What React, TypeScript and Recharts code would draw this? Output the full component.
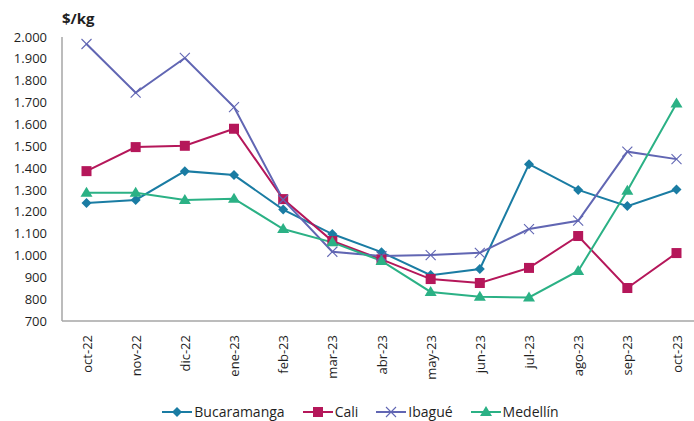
import { LineChart, Line, XAxis, YAxis, Legend } from 'recharts'

const months = ['oct-22', 'nov-22', 'dic-22', 'ene-23', 'feb-23', 'mar-23', 'abr-23', 'may-23', 'jun-23', 'jul-23', 'ago-23', 'sep-23', 'oct-23']
const bucaramanga = [1240, 1254, 1386, 1368, 1210, 1098, 1015, 910, 938, 1418, 1300, 1226, 1302]
const cali = [1386, 1496, 1502, 1580, 1258, 1066, 982, 892, 874, 943, 1089, 851, 1011]
const ibague = [1968, 1745, 1904, 1679, 1255, 1017, 997, 1002, 1012, 1121, 1159, 1475, 1441]
const medellin = [1287, 1287, 1254, 1260, 1121, 1060, 975, 833, 811, 808, 929, 1296, 1696]
const yTicks = [700, 800, 900, 1000, 1100, 1200, 1300, 1400, 1500, 1600, 1700, 1800, 1900, 2000]

const FONT = '"Open Sans", "Noto Sans", sans-serif'
const TEXT = '#1f1f1f'
const AXIS = '#a6a6a6'

type Shape = 'diamond' | 'square' | 'x' | 'triangle'

const series: { key: string; name: string; color: string; shape: Shape }[] = [
  { key: 'bucaramanga', name: 'Bucaramanga', color: '#1a7ca3', shape: 'diamond' },
  { key: 'cali', name: 'Cali', color: '#b5175a', shape: 'square' },
  { key: 'ibague', name: 'Ibagué', color: '#6166b3', shape: 'x' },
  { key: 'medellin', name: 'Medellín', color: '#2bb185', shape: 'triangle' },
]

const data = months.map((m, i) => ({
  month: m,
  bucaramanga: bucaramanga[i],
  cali: cali[i],
  ibague: ibague[i],
  medellin: medellin[i],
}))

function Marker({ cx, cy, shape, color }: { cx: number; cy: number; shape: Shape; color: string }) {
  if (shape === 'diamond') {
    return <polygon points={`${cx},${cy - 5} ${cx + 5},${cy} ${cx},${cy + 5} ${cx - 5},${cy}`} fill={color} />
  }
  if (shape === 'square') {
    return <rect x={cx - 5} y={cy - 5} width={10} height={10} fill={color} />
  }
  if (shape === 'x') {
    return (
      <g stroke={color} strokeWidth={1.1}>
        <line x1={cx - 5} y1={cy - 5} x2={cx + 5} y2={cy + 5} />
        <line x1={cx - 5} y1={cy + 5} x2={cx + 5} y2={cy - 5} />
      </g>
    )
  }
  return <polygon points={`${cx},${cy - 6} ${cx + 6},${cy + 4} ${cx - 6},${cy + 4}`} fill={color} />
}

function MonthTick({ x, y, payload }: any) {
  return (
    <text
      x={x}
      y={y + 6}
      transform={`rotate(-90, ${x}, ${y + 6})`}
      textAnchor="end"
      dominantBaseline="central"
      fontSize={13}
      fontFamily={FONT}
      fill={TEXT}
    >
      {payload.value}
    </text>
  )
}

function LegendContent() {
  return (
    <div
      style={{
        display: 'flex',
        justifyContent: 'center',
        alignItems: 'flex-end',
        gap: 18,
        fontFamily: FONT,
        fontSize: 14,
        color: TEXT,
        paddingLeft: 20,
        height: 40,
        boxSizing: 'border-box',
      }}
    >
      {series.map((s) => (
        <div key={s.key} style={{ display: 'flex', alignItems: 'center', lineHeight: '19px' }}>
          <svg width={30} height={14} style={{ marginRight: 2 }}>
            <line x1={0} y1={7} x2={30} y2={7} stroke={s.color} strokeWidth={2} />
            <Marker cx={15} cy={7} shape={s.shape} color={s.color} />
          </svg>
          <span>{s.name}</span>
        </div>
      ))}
    </div>
  )
}

const fmt = (v: number) => v.toLocaleString('de-DE')

export default function App() {
  return (
    <div style={{ position: 'absolute', left: 0, top: 0, width: 694, height: 421, overflow: 'hidden', background: '#fff' }}>
      <div style={{ position: 'absolute', left: 62, top: 8, fontFamily: FONT, fontWeight: 700, fontSize: 15, color: TEXT }}>$/kg</div>
      <LineChart width={701} height={421} data={data} margin={{ top: 37, right: 0, left: 0, bottom: 0 }}>
        <XAxis
          dataKey="month"
          axisLine={{ stroke: AXIS, strokeWidth: 1.5 }}
          tickLine={false}
          tick={<MonthTick />}
          interval={0}
          height={60}
          padding={{ left: 24.5, right: 24.5 }}
        />
        <YAxis
          domain={[700, 2000]}
          ticks={yTicks}
          axisLine={{ stroke: AXIS, strokeWidth: 1.5 }}
          tickLine={false}
          tickMargin={9}
          width={62}
          tickFormatter={fmt}
          tick={{ fontSize: 13, fontFamily: FONT, fill: TEXT }}
          interval={0}
        />
        <Legend verticalAlign="bottom" content={<LegendContent />} />
        {series.map((s) => (
          <Line
            key={s.key}
            dataKey={s.key}
            name={s.name}
            stroke={s.color}
            strokeWidth={2}
            isAnimationActive={false}
            dot={(p: any) => <Marker key={`${s.key}-${p.index}`} cx={p.cx} cy={p.cy} shape={s.shape} color={s.color} />}
            activeDot={false}
          />
        ))}
      </LineChart>
    </div>
  )
}
